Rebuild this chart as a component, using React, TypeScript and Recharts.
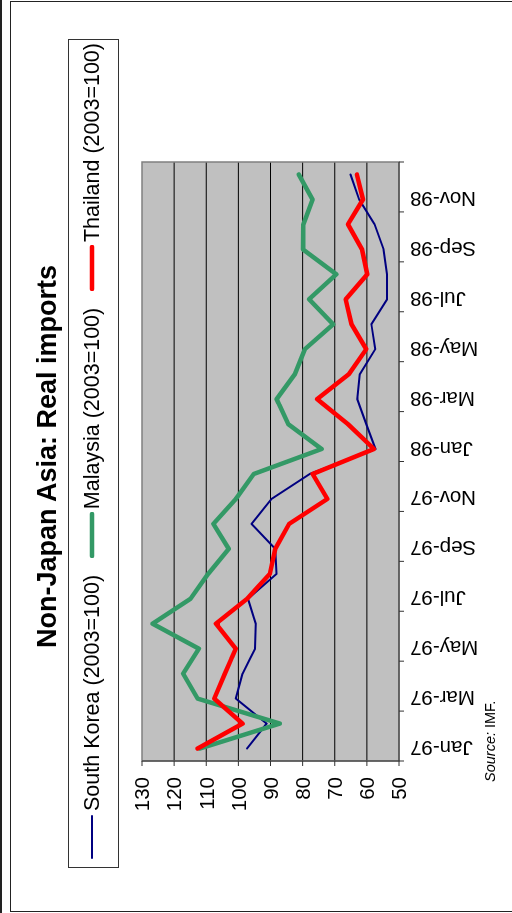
import { LineChart, Line, XAxis, YAxis, CartesianGrid, ReferenceArea } from 'recharts'

const MONTHS = [
  'Jan-97', 'Feb-97', 'Mar-97', 'Apr-97', 'May-97', 'Jun-97', 'Jul-97', 'Aug-97', 'Sep-97', 'Oct-97', 'Nov-97', 'Dec-97',
  'Jan-98', 'Feb-98', 'Mar-98', 'Apr-98', 'May-98', 'Jun-98', 'Jul-98', 'Aug-98', 'Sep-98', 'Oct-98', 'Nov-98', 'Dec-98',
]
const TICK_LABELS = ['Jan-97', 'Mar-97', 'May-97', 'Jul-97', 'Sep-97', 'Nov-97', 'Jan-98', 'Mar-98', 'May-98', 'Jul-98', 'Sep-98', 'Nov-98']
const VALUE_TICKS = [50, 60, 70, 80, 90, 100, 110, 120, 130]
const GRID_VALUES = [60, 70, 80, 90, 100, 110, 120]

const KOREA = [97.3, 91.2, 100.8, 98.7, 94.8, 94.6, 97, 88.1, 88.5, 95.9, 89.7, 77.8, 57.3, 60.2, 63, 62.2, 57.4, 58.6, 53.7, 53.7, 54.8, 57.6, 62.4, 65.1]
const MALAYSIA = [112, 87.1, 112.7, 117.2, 112.3, 126.7, 114.9, 109.4, 103, 107.8, 100.8, 95.2, 74.1, 84.5, 88.1, 82.4, 79.3, 70.5, 78, 69.5, 79.9, 79.8, 76.9, 81.2]
const THAILAND = [112.7, 98.7, 107.5, 104.2, 100.8, 107, 97.3, 90.2, 88.5, 84.2, 72.3, 76.9, 57.8, 65.9, 75.5, 65.6, 60.2, 64.8, 66.6, 59.9, 61.5, 65.9, 61.2, 63.1]

const SERIES = [
  { key: 'korea', name: 'South Korea (2003=100)', color: '#000080', width: 2 },
  { key: 'malaysia', name: 'Malaysia (2003=100)', color: '#339966', width: 4.5 },
  { key: 'thailand', name: 'Thailand (2003=100)', color: '#FF0000', width: 4.5 },
]

const data = MONTHS.map((month, i) => ({ i, month, korea: KOREA[i], malaysia: MALAYSIA[i], thailand: THAILAND[i] }))

// tick marks sit between month pairs, labels on the first month of each pair
const xTicks = TICK_LABELS.flatMap((_, k) => [2 * k - 0.5, 2 * k]).concat([TICK_LABELS.length * 2 - 0.5])

const FONT = '"Liberation Sans", Arial, sans-serif'
const W = 913
const H = 512

function MonthTick(props: any) {
  const { x, y, payload } = props
  const v = payload.value
  if (v % 1 !== 0) return <line x1={x} y1={y} x2={x} y2={y + 5} stroke="#333" />
  const ty = y + 11
  return (
    <text x={x} y={ty} transform={`rotate(-90 ${x} ${ty})`} textAnchor="end" dominantBaseline="central"
      fontSize={20.5} fontFamily={FONT} fill="#000">
      {TICK_LABELS[v / 2]}
    </text>
  )
}

function LegendBox() {
  return (
    <div style={{
      position: 'absolute', left: 45, top: 68, width: 829, height: 51, boxSizing: 'border-box',
      border: '1px solid #333', background: '#fff', display: 'flex', alignItems: 'center',
      justifyContent: 'space-between', padding: '0 3px 3px 7px', fontSize: 21.5, fontFamily: FONT,
    }}>
      {SERIES.map(s => (
        <div key={s.key} style={{ display: 'flex', alignItems: 'center', whiteSpace: 'nowrap' }}>
          <svg width={46} height={10} style={{ marginRight: 3 }}>
            <line x1={2} y1={5} x2={44} y2={5} stroke={s.color} strokeWidth={s.width} strokeLinecap="round" />
          </svg>
          <span>{s.name}</span>
        </div>
      ))}
    </div>
  )
}

export default function App() {
  return (
    <div style={{
      position: 'fixed', left: 0, top: 0, width: W, height: H, background: '#fff',
      transformOrigin: '0 0', transform: `translate(0px, ${W}px) rotate(-90deg)`, fontFamily: FONT,
    }}>
      <div style={{ position: 'absolute', left: 0, top: 0, width: W, height: 1.5, background: '#222' }} />
      <div style={{ position: 'absolute', left: 1, top: 10, width: W - 2, height: 520, border: '1.5px solid #222', boxSizing: 'border-box' }} />
      <div style={{
        position: 'absolute', left: 0, top: 34, width: W, textAlign: 'center', fontSize: 27,
        fontWeight: 'bold', lineHeight: '27px', color: '#000',
      }}>
        Non-Japan Asia: Real imports
      </div>
      <LegendBox />
      <div style={{ position: 'absolute', left: 131, top: 482, fontSize: 14.5, lineHeight: '17px', color: '#000' }}>
        <i>Source:</i> IMF.
      </div>
      <div style={{ position: 'absolute', left: 0, top: 0 }}>
        <LineChart width={W} height={H} data={data} margin={{ top: 142, right: 162, bottom: 0, left: 0 }}>
          <CartesianGrid fill="#C0C0C0" stroke="#000" vertical={false} horizontalValues={GRID_VALUES} />
          <ReferenceArea x1={-0.5} x2={23.5} y1={50} y2={130} fill="none" stroke="#808080" strokeWidth={1.5} ifOverflow="visible" />
          <XAxis type="number" dataKey="i" domain={[-0.5, 23.5]} ticks={xTicks} interval={0} height={113}
            tickLine={false} tickSize={0} tickMargin={0} tick={<MonthTick />} axisLine={{ stroke: '#333' }} />
          <YAxis type="number" domain={[50, 130]} ticks={VALUE_TICKS} interval={0} width={152}
            tickSize={5} tickMargin={11} tickLine={{ stroke: '#333' }} axisLine={{ stroke: '#333' }}
            tick={{ fontSize: 20.5, fill: '#000', fontFamily: FONT }} />
          {SERIES.map(s => (
            <Line key={s.key} type="linear" dataKey={s.key} name={s.name} stroke={s.color} strokeWidth={s.width}
              strokeLinejoin="round" strokeLinecap="round" dot={false} activeDot={false} isAnimationActive={false} />
          ))}
        </LineChart>
      </div>
    </div>
  )
}
